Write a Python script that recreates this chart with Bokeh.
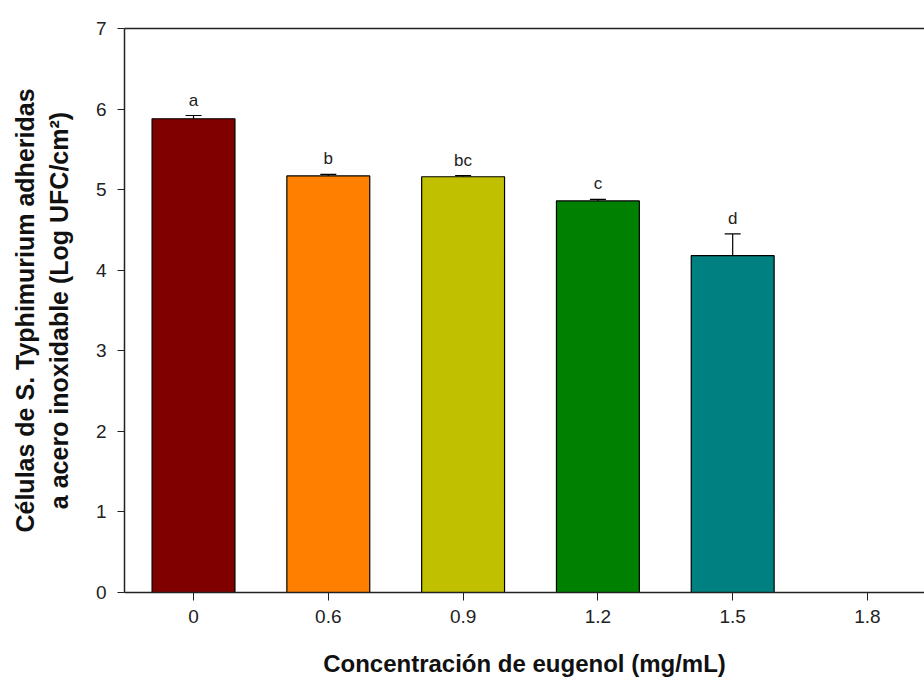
from bokeh.plotting import figure
from bokeh.models import Range1d, FixedTicker, LinearAxis, ColumnDataSource, Whisker, LabelSet, TeeHead
from bokeh.core.properties import value
from bokeh.embed import file_html
from bokeh.resources import INLINE

categories = ["0", "0.6", "0.9", "1.2", "1.5", "1.8"]
values = [5.88, 5.17, 5.16, 4.86, 4.18, 0.0]
errors = [0.04, 0.02, 0.015, 0.02, 0.27, 0.0]
letters = ["a", "b", "bc", "c", "d", ""]
colors = ["#800000", "#FF8000", "#C0C000", "#008000", "#008080", "#FFFFFF"]

idx = list(range(len(categories)))
shown = [i for i in idx if values[i] > 0]
src = ColumnDataSource(dict(
    x=[idx[i] for i in shown],
    top=[values[i] for i in shown],
    upper=[values[i] + errors[i] for i in shown],
    base=[values[i] for i in shown],
    lab=[letters[i] for i in shown],
    color=[colors[i] for i in shown],
))

FONT = "Liberation Sans"

p = figure(width=924, height=684, output_backend="svg", toolbar_location=None,
           x_range=Range1d(-0.512, 5.423), y_range=Range1d(0, 7),
           min_border_left=124, min_border_right=0, min_border_top=28, min_border_bottom=92)
p.outline_line_color = None
p.grid.grid_line_color = None
p.background_fill_color = "white"

p.vbar(x="x", top="top", bottom=0, width=0.615, source=src, fill_color="color",
       line_color="black", line_width=1.2)
p.add_layout(Whisker(source=src, base="x", upper="upper", lower="base", dimension="height",
                     line_color="black", line_width=1.2,
                     upper_head=TeeHead(size=16, line_color="black", line_width=1.2),
                     lower_head=None))

p.add_layout(LabelSet(x="x", y="upper", text="lab", source=src, y_offset=6,
                      text_align="center", text_baseline="bottom",
                      text_font=value(FONT), text_font_size="17px", text_color="#222222"))

# x axis
xa = p.xaxis[0]
xa.ticker = FixedTicker(ticks=idx)
xa.major_label_overrides = {i: c for i, c in zip(idx, categories)}
xa.minor_tick_line_color = None
xa.major_tick_out = 8
xa.major_tick_in = 0
xa.axis_line_width = 1.5
xa.axis_line_color = "#222222"
xa.major_tick_line_color = "#222222"
xa.major_label_text_font = FONT
xa.major_label_text_font_size = "19px"
xa.major_label_text_color = "#222222"
xa.major_label_standoff = 9
xa.axis_label = "Concentración de eugenol (mg/mL)"
xa.axis_label_text_font = FONT
xa.axis_label_text_font_style = "bold"
xa.axis_label_text_font_size = "24px"
xa.axis_label_text_color = "#111111"
xa.axis_label_standoff = 24

ya = p.yaxis[0]
ya.ticker = FixedTicker(ticks=[0, 1, 2, 3, 4, 5, 6, 7])
ya.minor_tick_line_color = None
ya.major_tick_out = 7
ya.major_tick_in = 0
ya.axis_line_width = 1.5
ya.axis_line_color = "#222222"
ya.major_tick_line_color = "#222222"
ya.major_label_text_font = FONT
ya.major_label_text_font_size = "19px"
ya.major_label_text_color = "#222222"
ya.major_label_standoff = 11
ya.axis_label = "Células de S. Typhimurium adheridas\na acero inoxidable (Log UFC/cm²)"
ya.axis_label_text_font = FONT
ya.axis_label_text_font_style = "bold"
ya.axis_label_text_font_size = "25px"
ya.axis_label_text_color = "#111111"
ya.axis_label_standoff = 20

top = LinearAxis(ticker=FixedTicker(ticks=[]), major_label_text_font_size="0px",
                 major_tick_out=0, major_tick_in=0, minor_tick_out=0, major_label_standoff=0,
                 axis_line_width=1.5, axis_line_color="#222222")
p.add_layout(top, "above")

open("out.html", "w").write(file_html(p, INLINE))
